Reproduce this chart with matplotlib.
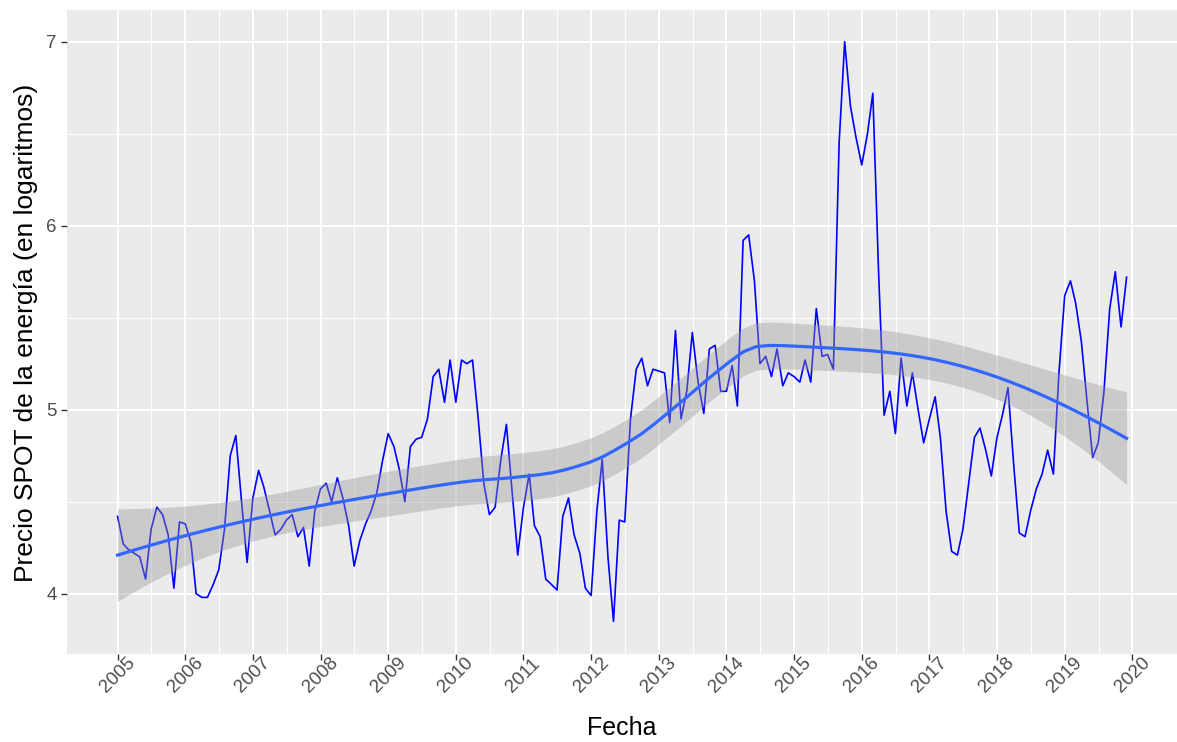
import numpy as np
import pandas as pd
import matplotlib
matplotlib.use('Agg')
import matplotlib.pyplot as plt

plt.rcParams['font.family'] = ['Liberation Sans', 'DejaVu Sans']

# %% datos: precio spot mensual (log), ene-2005 a dic-2019
precio_2005_2009 = [
    4.42, 4.27, 4.24, 4.22, 4.20, 4.08, 4.35, 4.47, 4.43, 4.32, 4.03, 4.39,
    4.38, 4.28, 4.00, 3.98, 3.98, 4.05, 4.13, 4.35, 4.75, 4.86, 4.50, 4.17,
    4.52, 4.67, 4.58, 4.45, 4.32, 4.35, 4.40, 4.43, 4.31, 4.36, 4.15, 4.45,
    4.57, 4.60, 4.50, 4.63, 4.52, 4.37, 4.15, 4.29, 4.38, 4.45, 4.55, 4.72,
    4.87, 4.80, 4.68, 4.50, 4.80, 4.84, 4.85, 4.95, 5.18, 5.22, 5.04, 5.27,
]
precio_2010_2014 = [
    5.04, 5.27, 5.25, 5.27, 4.96, 4.60, 4.43, 4.47, 4.73, 4.92, 4.55, 4.21,
    4.47, 4.65, 4.37, 4.31, 4.08, 4.05, 4.02, 4.42, 4.52, 4.32, 4.22, 4.03,
    3.99, 4.45, 4.73, 4.20, 3.85, 4.40, 4.39, 4.95, 5.22, 5.28, 5.13, 5.22,
    5.21, 5.20, 4.93, 5.43, 4.95, 5.10, 5.42, 5.15, 4.98, 5.33, 5.35, 5.10,
    5.10, 5.24, 5.02, 5.92, 5.95, 5.70, 5.25, 5.29, 5.18, 5.33, 5.13, 5.20,
]
precio_2015_2019 = [
    5.18, 5.15, 5.27, 5.15, 5.55, 5.29, 5.30, 5.22, 6.45, 7.00, 6.65, 6.48,
    6.33, 6.50, 6.72, 5.75, 4.97, 5.10, 4.87, 5.28, 5.02, 5.20, 5.00, 4.82,
    4.95, 5.07, 4.85, 4.45, 4.23, 4.21, 4.35, 4.60, 4.85, 4.90, 4.78, 4.64,
    4.85, 4.98, 5.12, 4.70, 4.33, 4.31, 4.45, 4.57, 4.65, 4.78, 4.65, 5.20,
    5.62, 5.70, 5.58, 5.37, 5.05, 4.74, 4.82, 5.10, 5.55, 5.75, 5.45, 5.72,
]
years = list(range(2005, 2021))

precio = np.array(precio_2005_2009 + precio_2010_2014 + precio_2015_2019)
fechas = pd.date_range('2005-01-01', periods=len(precio), freq='MS')

def year_frac(d):
    d = pd.DatetimeIndex(d)
    start = pd.to_datetime(d.year.astype(str) + '-01-01')
    ndays = np.where(d.is_leap_year, 366, 365)
    return d.year + (d - start).days / ndays

x = np.asarray(year_frac(fechas))

# %% loess (degree 2, span 0.75) con banda de confianza 95%, como geom_smooth
def loess_weights(xd, x0, span=0.75):
    n = len(xd)
    q = int(np.floor(n * span))
    d = np.abs(xd - x0)
    h = np.sort(d)[q - 1]
    w = np.clip(1 - (d / h) ** 3, 0, None) ** 3
    X = np.column_stack([np.ones(n), xd - x0, (xd - x0) ** 2])
    XtW = X.T * w
    A = np.linalg.solve(XtW @ X, XtW)
    return A[0]

L = np.array([loess_weights(x, xi) for xi in x])
resid = precio - L @ precio
IL = np.eye(len(x)) - L
M = IL.T @ IL
delta1 = np.trace(M)
sigma = np.sqrt(np.sum(resid ** 2) / delta1)

x_s = np.linspace(x.min(), x.max(), 80)
l_s = np.array([loess_weights(x, xi) for xi in x_s])
fit = l_s @ precio
se = sigma * np.sqrt(np.sum(l_s ** 2, axis=1))
lo = fit - 1.97 * se
hi = fit + 1.97 * se

# %% figura
fig = plt.figure(figsize=(11.77, 7.42), dpi=100)
ax = fig.add_axes([0.057, 0.118, 0.943, 0.868])
ax.set_facecolor('#EBEBEB')
for s in ax.spines.values():
    s.set_visible(False)

ax.plot(x, precio, color='#0000FF', lw=1.2, zorder=3)
ax.fill_between(x_s, lo, hi, color='#999999', alpha=0.4, lw=0, zorder=4)
ax.plot(x_s, fit, color='#3366FF', lw=2.3, zorder=5)

ax.set_xlim(2004.254, 2020.66)
ax.set_ylim(3.67, 7.17)

ax.set_xticks(years)
ax.set_xticklabels([str(y) for y in years], rotation=45, ha='center', va='center')
ax.set_xticks(np.array(years[:-1]) + 0.5, minor=True)
ax.set_yticks([4, 5, 6, 7])
ax.set_yticks([4.5, 5.5, 6.5], minor=True)

ax.grid(which='major', color='white', lw=1.5, zorder=0)
ax.grid(which='minor', color='white', lw=0.7, zorder=0)
ax.set_axisbelow(True)

ax.tick_params(axis='both', which='major', colors='#333333', labelcolor='#4D4D4D',
               labelsize=13.5, length=4, width=1)
ax.tick_params(axis='x', which='major', pad=11)
ax.tick_params(which='minor', length=0)

ax.set_xlabel('Fecha', fontsize=18, labelpad=14)
ax.set_ylabel('Precio SPOT de la energía (en logaritmos)', fontsize=19, labelpad=6)

fig.savefig('out.png', dpi=100)
